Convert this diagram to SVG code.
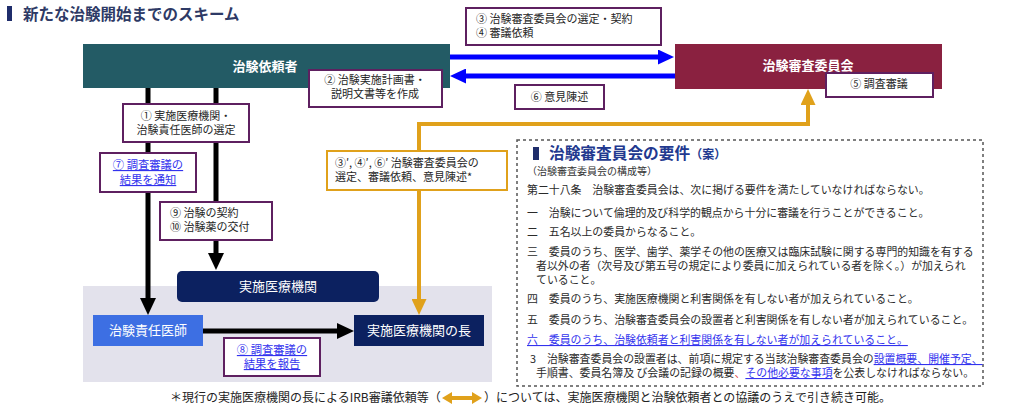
<svg xmlns="http://www.w3.org/2000/svg" width="1024" height="410" viewBox="0 0 1024 410">
<style>
text { font-family: "Noto Sans CJK JP", "Noto Sans", sans-serif; }
.lbl { fill: #fff; stroke: #5E2060; stroke-width: 2; }
.olbl { fill: #fff; stroke: #E0A11B; stroke-width: 2; }
.bt { font-size: 11px; fill: #262626; }
.lk { font-size: 11.3px; fill: #3333EE; text-decoration: underline; }
.wt { font-size: 13px; fill: #fff; }
.wb { font-size: 13px; fill: #fff; font-weight: bold; }
.rt { font-size: 10.9px; fill: #2A2A2A; }
.rl { fill: #3333EE; text-decoration: underline; }
.blue { stroke: #0000FF; stroke-width: 5; fill: none; }
.blk { stroke: #000; stroke-width: 5; fill: none; }
.org { stroke: #E0A11B; stroke-width: 4; fill: none; }
</style>
<defs>
<marker id="hb" markerUnits="userSpaceOnUse" markerWidth="16" markerHeight="15" refX="0" refY="7.5" orient="auto"><path d="M0,0 L16,7.5 L0,15 z" fill="#0000FF"/></marker>
<marker id="hk" markerUnits="userSpaceOnUse" markerWidth="17" markerHeight="16" refX="0" refY="8" orient="auto"><path d="M0,0 L17,8 L0,16 z" fill="#000"/></marker>
<marker id="ho" markerUnits="userSpaceOnUse" markerWidth="16" markerHeight="15" refX="0" refY="7.5" orient="auto-start-reverse"><path d="M0,0 L16,7.5 L0,15 z" fill="#E0A11B"/></marker>
</defs>
<rect width="1024" height="410" fill="#fff"/>

<g id="title">
<rect x="7" y="6" width="5" height="15" fill="#1F2D6B"/>
<text x="23" y="20" font-size="15.5" font-weight="bold" fill="#2E3A66">新たな治験開始までのスキーム</text>
</g>

<g id="panel">
<rect x="83" y="286" width="409" height="96" fill="#E3E2EC"/>
</g>

<g id="connectors">
<line class="blue" x1="450" y1="57" x2="658" y2="57" marker-end="url(#hb)"/>
<line class="blue" x1="675" y1="76" x2="466" y2="76" marker-end="url(#hb)"/>
<line class="blk" x1="148" y1="88" x2="148" y2="298" marker-end="url(#hk)"/>
<line class="blk" x1="216" y1="88" x2="216" y2="253" marker-end="url(#hk)"/>
<line class="blk" x1="203" y1="331" x2="337" y2="331" marker-end="url(#hk)"/>
<path class="org" d="M419,299 L419,124 L808,124 L808,105" marker-start="url(#ho)" marker-end="url(#ho)"/>
</g>

<g id="sponsor">
<rect x="83" y="44" width="367" height="44" fill="#235B65"/>
<text class="wb" x="265" y="70.5" text-anchor="middle">治験依頼者</text>
</g>

<g id="irb">
<rect x="675" y="44" width="267" height="45" fill="#8A2140"/>
<text class="wb" x="808" y="70" text-anchor="middle">治験審査委員会</text>
</g>

<g id="site">
<rect x="177" y="271" width="202" height="31" rx="5" fill="#0C2160"/>
<text class="wt" x="278" y="291" text-anchor="middle">実施医療機関</text>
</g>

<g id="investigator">
<rect x="93" y="315" width="110" height="31" fill="#3D6FE3"/>
<text class="wt" x="148" y="335" text-anchor="middle">治験責任医師</text>
</g>

<g id="head">
<rect x="354" y="315" width="130" height="31" fill="#0C2160"/>
<text class="wt" x="419" y="335" text-anchor="middle">実施医療機関の長</text>
</g>

<g id="label-2">
<rect class="lbl" x="309" y="70" width="133" height="37"/>
<text class="bt" x="375" y="84" text-anchor="middle">② 治験実施計画書・</text>
<text class="bt" x="375" y="98" text-anchor="middle">説明文書等を作成</text>
</g>

<g id="label-34">
<rect class="lbl" x="466" y="8" width="195" height="37"/>
<text class="bt" x="476" y="23">③ 治験審査委員会の選定・契約</text>
<text class="bt" x="476" y="37">④ 審議依頼</text>
</g>

<g id="label-6">
<rect class="lbl" x="515" y="85" width="89" height="24"/>
<text class="bt" x="559.5" y="101" text-anchor="middle">⑥ 意見陳述</text>
</g>

<g id="label-5">
<rect class="lbl" x="826" y="73" width="107" height="24"/>
<text class="bt" x="879" y="88" text-anchor="middle">⑤ 調査審議</text>
</g>

<g id="label-1">
<rect class="lbl" x="123" y="104" width="126" height="38"/>
<text class="bt" x="186" y="120" text-anchor="middle">① 実施医療機関・</text>
<text class="bt" x="186" y="134" text-anchor="middle">治験責任医師の選定</text>
</g>

<g id="label-7">
<rect class="lbl" x="100" y="153" width="96" height="39"/>
<text class="lk" x="148" y="169" text-anchor="middle">⑦ 調査審議の</text>
<text class="lk" x="148" y="184" text-anchor="middle">結果を通知</text>
</g>

<g id="label-910">
<rect class="lbl" x="160" y="202" width="112" height="38"/>
<text class="bt" x="170" y="217">⑨ 治験の契約</text>
<text class="bt" x="170" y="231">⑩ 治験薬の交付</text>
</g>

<g id="label-346p">
<rect class="olbl" x="327" y="151" width="180" height="39"/>
<text class="bt" x="335" y="167">③′, ④′, ⑥′ 治験審査委員会の</text>
<text class="bt" x="335" y="181">選定、審議依頼、意見陳述*</text>
</g>

<g id="label-8">
<rect class="lbl" x="224" y="338" width="96" height="38"/>
<text class="lk" x="272" y="354" text-anchor="middle">⑧ 調査審議の</text>
<text class="lk" x="272" y="368" text-anchor="middle">結果を報告</text>
</g>

<g id="requirements">
<rect x="517" y="140" width="466" height="246" fill="none" stroke="#555" stroke-width="1.5" stroke-dasharray="3,3"/>
<rect x="533" y="147" width="6" height="13" fill="#1F2D6B"/>
<text x="549" y="159" font-size="15.7" font-weight="bold" fill="#22398F">治験審査員会の要件<tspan font-size="12">（案）</tspan></text>
<text x="527" y="175" font-size="10" fill="#333">（治験審査委員会の構成等）</text>
<text class="rt" x="527" y="194">第二十八条　治験審査委員会は、次に掲げる要件を満たしていなければならない。</text>
<text class="rt" x="527" y="217">一　治験について倫理的及び科学的観点から十分に審議を行うことができること。</text>
<text class="rt" x="527" y="236">二　五名以上の委員からなること。</text>
<text class="rt" x="527" y="256">三　委員のうち、医学、歯学、薬学その他の医療又は臨床試験に関する専門的知識を有する</text>
<text class="rt" x="536" y="270">者以外の者（次号及び第五号の規定により委員に加えられている者を除く。）が加えられ</text>
<text class="rt" x="536" y="284">ていること。</text>
<text class="rt" x="527" y="303">四　委員のうち、実施医療機関と利害関係を有しない者が加えられていること。</text>
<text class="rt" x="527" y="324">五　委員のうち、治験審査委員会の設置者と利害関係を有しない者が加えられていること。</text>
<text class="rt rl" x="527" y="344">六　委員のうち、治験依頼者と利害関係を有しない者が加えられていること。</text>
<text class="rt" x="530" y="363">3　治験審査委員会の設置者は、前項に規定する当該治験審査委員会の<tspan class="rl">設置概要、開催予定、</tspan></text>
<text class="rt" x="536" y="377">手順書、委員名簿及 び会議の記録の概要<tspan fill="#E03030">、</tspan><tspan class="rl">その他必要な事項</tspan>を公表しなければならない。</text>
</g>

<g id="footnote">
<text x="170" y="402" font-size="12" fill="#222">＊現行の実施医療機関の長によるIRB審議依頼等（</text>
<polygon points="442,398 452,392 452,396 472,396 472,392 482,398 472,404 472,400 452,400 452,404" fill="#E0A11B"/>
<text x="484" y="402" font-size="12" fill="#222">）については、実施医療機関と治験依頼者との協議のうえで引き続き可能。</text>
</g>
</svg>
